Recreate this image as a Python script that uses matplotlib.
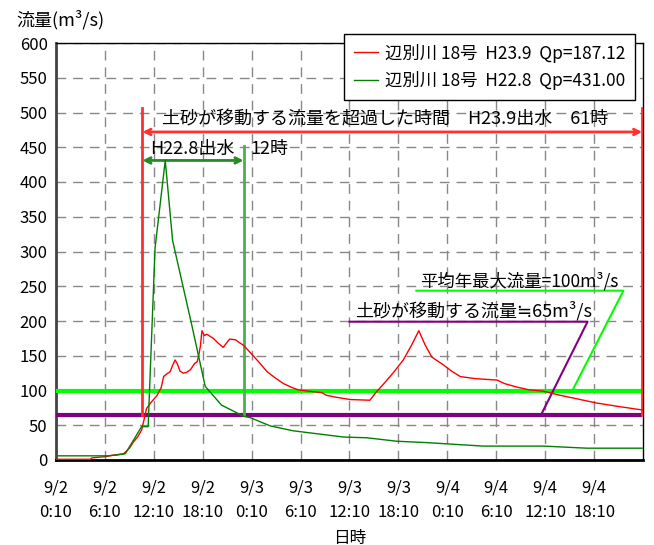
import matplotlib
matplotlib.use("Agg")
import matplotlib.pyplot as plt

plt.rcParams['font.family'] = ['Noto Sans CJK JP', 'DejaVu Sans']

# ------------------------------------------------------------
# data (x = hours from 9/2 0:10)
# ------------------------------------------------------------
red_t = [0, 4.2, 4.4, 6.2, 7.0, 8.3, 9.0, 9.5, 10.0, 10.5, 10.8, 11.1, 11.6, 12.4,
         12.9, 13.2, 13.6, 14.0, 14.3, 14.6, 14.9, 15.2, 15.6, 16.0, 16.5, 17.0,
         17.3, 17.5, 17.7, 17.9, 18.2, 18.5, 18.9, 19.3, 19.9, 20.5, 20.9, 21.3,
         22.0, 22.6, 23.0, 23.8, 24.8, 25.9, 26.9, 27.9, 28.8, 29.7, 31.0, 32.6,
         33.2, 34.5, 36.1, 38.5, 39.3, 40.3, 41.4, 42.6, 43.6, 44.5, 45.3, 46.1,
         47.5, 48.5, 49.6, 51.5, 54.1, 55.0, 56.5, 58.0, 59.8, 61.5, 63.1, 64.7,
         66.3, 69.0, 71.9]
red_q = [1, 1, 3, 5, 7, 9, 17, 26, 33, 43, 58, 74, 82, 93,
         104, 120, 124, 127, 136, 144, 138, 128, 125, 126, 130, 139,
         141, 150, 163, 186, 179, 181, 178, 175, 168, 162, 168, 174,
         173, 168, 165, 155, 142, 127, 118, 110, 105, 101, 99, 97,
         93, 90, 87, 86, 98, 111, 126, 144, 165, 186, 165, 148,
         137, 128, 120, 117, 115, 110, 105, 101, 99, 94, 90, 86,
         82, 77, 72]

green_t = [0, 6.2, 7.4, 8.5, 10.5, 11.3, 12.15, 13.4, 14.3, 16.6, 18.3, 20.3, 23.0,
           23.8, 26.3, 29.1, 35.3, 38.1, 41.8, 45.5, 52.4, 59.8, 65.1, 72]
green_q = [6, 6, 7, 9, 48, 48, 305, 431, 316, 197, 106, 79, 63,
           61, 49, 42, 33, 32, 27, 25, 20, 20, 17, 17]

labels = ["辺別川 18号  H23.9  Qp=187.12", "辺別川 18号  H22.8  Qp=431.00"]

tick_hours = list(range(0, 67, 6))
tick_labels = ["9/2\n0:10", "9/2\n6:10", "9/2\n12:10", "9/2\n18:10",
               "9/3\n0:10", "9/3\n6:10", "9/3\n12:10", "9/3\n18:10",
               "9/4\n0:10", "9/4\n6:10", "9/4\n12:10", "9/4\n18:10"]

mean_max_q = 99        # 平均年最大流量 line
move_q = 65            # 土砂が移動する流量
red_start, red_end = 10.6, 71.9
green_start, green_end = 10.6, 23.0

# ------------------------------------------------------------
# figure
# ------------------------------------------------------------
fig = plt.figure(figsize=(6.54, 5.45), dpi=100)
ax = fig.add_axes([56 / 654, 85 / 545, 587 / 654, 417 / 545])

ax.plot(red_t, red_q, color="#ff0000", lw=1.0, label=labels[0], zorder=4)
ax.plot(green_t, green_q, color="#008000", lw=1.0, label=labels[1], zorder=4)

# threshold lines
ax.axhline(mean_max_q, color="#00ff00", lw=3, zorder=3)
ax.axhline(move_q, color="#800080", lw=3, zorder=3)

# duration markers
ax.plot([red_start, red_start], [move_q, 506], color="#ff3030", lw=2, zorder=3)
ax.plot([red_end, red_end], [move_q, 506], color="#ff3030", lw=2, zorder=3)
ax.plot([green_end, green_end], [move_q, 452], color="#4caf50", lw=2, zorder=3)

ax.annotate("", xy=(red_start, 472), xytext=(red_end, 472),
            arrowprops=dict(arrowstyle="<->", color="#ff3030", lw=2,
                            shrinkA=0, shrinkB=0, mutation_scale=10))
ax.annotate("", xy=(green_start, 431), xytext=(green_end, 431),
            arrowprops=dict(arrowstyle="<->", color="#228b22", lw=2,
                            shrinkA=0, shrinkB=0, mutation_scale=10))

ax.text(13.0, 490, "土砂が移動する流量を超過した時間　H23.9出水　61時",
        fontsize=13, va="center", ha="left")
ax.text(11.5, 448, "H22.8出水", fontsize=13, va="center", ha="left")
ax.text(23.9, 448, "12時", fontsize=13, va="center", ha="left")

# leader lines with labels
ax.plot([44.2, 69.6, 63.3], [243.6, 243.6, mean_max_q], color="#00ff00", lw=1.5, zorder=3)
ax.text(44.7, 257, "平均年最大流量=100m³/s", fontsize=12.5, va="center", ha="left")
ax.plot([36.0, 65.2, 59.5], [199, 199, move_q], color="#800080", lw=1.5, zorder=3)
ax.text(36.7, 215, "土砂が移動する流量≒65m³/s", fontsize=13, va="center", ha="left")

# axes styling
ax.set_xlim(0, 72)
ax.set_ylim(0, 600)
ax.set_yticks(range(0, 601, 50))
ax.set_xticks(tick_hours)
ax.set_xticklabels(tick_labels, linespacing=1.55)
ax.tick_params(axis="both", labelsize=12, length=0)
ax.tick_params(axis="x", pad=14)
ax.tick_params(axis="y", pad=6)
ax.grid(True, color="#888888", linestyle=(0, (7, 5)), lw=1)

for side in ["left", "bottom"]:
    ax.spines[side].set_linewidth(2)
ax.spines["left"].set_color("#444444")
ax.spines["top"].set_linewidth(1)
ax.spines["right"].set_linewidth(1)

leg = ax.legend(loc="upper right", bbox_to_anchor=(635 / 654, 1 - 34 / 545),
                bbox_transform=fig.transFigure, fontsize=12.5, fancybox=False,
                framealpha=1, edgecolor="black", handlelength=1.4,
                borderpad=0.55, labelspacing=0.5, handletextpad=0.4,
                borderaxespad=0)
leg.get_frame().set_linewidth(1)
leg.set_zorder(10)

fig.text(16 / 654, 1 - 20 / 545, "流量(m³/s)", fontsize=13, va="center", ha="left")
fig.text(349.5 / 654, 1 - 538 / 545, "日時", fontsize=12, va="center", ha="center")

fig.savefig("out.png", dpi=100)
